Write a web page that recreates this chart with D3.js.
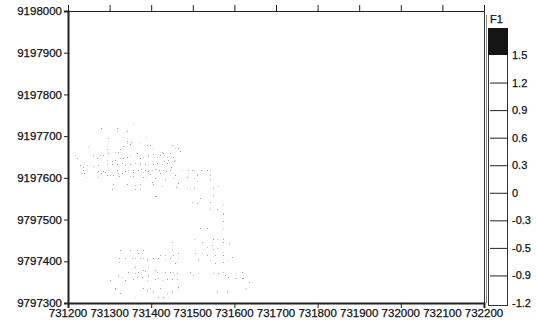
<!DOCTYPE html>
<html>
<head>
<meta charset="utf-8">
<script src="https://cdn.jsdelivr.net/npm/d3@7"></script>
<style>
  body { margin: 0; background: #fff; }
  svg { display: block; font-family: "Liberation Sans", Arial, sans-serif; }
  text { stroke: #111; stroke-width: 0.25px; }
</style>
</head>
<body>
<svg id="chart" width="536" height="325"></svg>
<script>
// axis ticks and labels (labels copied as printed on the figure)
const yTicks = [9198000, 9197900, 9197800, 9197700, 9197600, 9197500, 9197400, 9197300];
const yLabels = ['9198000', '9197900', '9197800', '9197700', '9197600', '9797500', '9797400', '9797300'];
const xTicks = [731200, 731300, 731400, 731500, 731600, 731700, 731800, 731900, 732000, 732100, 732200];
const xMajor = [731200, 731400, 731600, 731800, 732000, 732200];
const legendLevels = ['1.5', '1.2', '0.9', '0.6', '0.3', '0', '-0.3', '-0.5', '-0.9', '-1.2'];

// sample points, upper cluster [easting, northing]
const upperPoints = [
  [731356, 9197729], [731279, 9197720], [731318, 9197720], [731318, 9197712], [731342, 9197712],
  [731296, 9197696], [731388, 9197698], [731342, 9197688], [731351, 9197686], [731342, 9197684],
  [731349, 9197681], [731332, 9197676], [731373, 9197686], [731390, 9197679], [731397, 9197679],
  [731404, 9197672], [731426, 9197662], [731450, 9197679], [731457, 9197672], [731464, 9197672],
  [731469, 9197664], [731248, 9197674], [731294, 9197669], [731296, 9197660], [731313, 9197662],
  [731320, 9197662], [731325, 9197669], [731217, 9197655], [731222, 9197648], [731260, 9197655],
  [731277, 9197655], [731284, 9197655], [731270, 9197648], [731294, 9197643], [731306, 9197641],
  [731313, 9197643], [731325, 9197648], [731332, 9197648], [731342, 9197650], [731349, 9197655],
  [731366, 9197660], [731373, 9197648], [731380, 9197650], [731392, 9197655], [731404, 9197657],
  [731414, 9197650], [731421, 9197655], [731428, 9197660], [731438, 9197650], [731445, 9197660],
  [731452, 9197650], [731457, 9197643], [731229, 9197631], [731236, 9197626], [731246, 9197631],
  [731260, 9197629], [731272, 9197631], [731294, 9197634], [731306, 9197634], [731318, 9197634],
  [731330, 9197636], [731337, 9197631], [731349, 9197634], [731361, 9197636], [731373, 9197634],
  [731385, 9197634], [731392, 9197631], [731404, 9197634], [731414, 9197636], [731426, 9197634],
  [731438, 9197636], [731448, 9197626], [731402, 9197641], [731431, 9197641], [731440, 9197643],
  [731450, 9197641], [731455, 9197641], [731236, 9197619], [731246, 9197619], [731272, 9197617],
  [731284, 9197617], [731296, 9197619], [731318, 9197619], [731337, 9197617], [731344, 9197619],
  [731356, 9197619], [731368, 9197619], [731376, 9197621], [731385, 9197619], [731392, 9197617],
  [731402, 9197619], [731409, 9197621], [731419, 9197619], [731428, 9197619], [731436, 9197617],
  [731445, 9197619], [731474, 9197619], [731488, 9197619], [731498, 9197619], [731503, 9197619],
  [731520, 9197619], [731534, 9197619], [731541, 9197619], [731231, 9197612], [731239, 9197612],
  [731270, 9197614], [731280, 9197612], [731289, 9197614], [731320, 9197612], [731330, 9197612],
  [731356, 9197614], [731380, 9197614], [731397, 9197609], [731421, 9197612], [731510, 9197609],
  [731510, 9197607], [731541, 9197607], [731243, 9197602], [731272, 9197602], [731294, 9197607],
  [731301, 9197607], [731308, 9197607], [731323, 9197605], [731349, 9197605], [731356, 9197605],
  [731380, 9197602], [731388, 9197602], [731409, 9197600], [731433, 9197597], [731452, 9197600],
  [731457, 9197607], [731486, 9197602], [731503, 9197600], [731541, 9197597], [731402, 9197590],
  [731510, 9197593], [731308, 9197585], [731342, 9197585], [731361, 9197583], [731373, 9197585],
  [731404, 9197585], [731426, 9197581], [731464, 9197588], [731460, 9197578], [731486, 9197576],
  [731503, 9197576], [731549, 9197576], [731560, 9197581], [731306, 9197573], [731361, 9197573],
  [731373, 9197573], [731409, 9197557], [731412, 9197557], [731493, 9197573], [731517, 9197552],
  [731549, 9197559]
];

// sample points, lower cluster [easting, northing]
const lowerPoints = [
  [731498, 9197542], [731510, 9197540], [731541, 9197542], [731573, 9197537], [731541, 9197525],
  [731558, 9197525], [731573, 9197516], [731573, 9197513], [731573, 9197497], [731573, 9197480],
  [731517, 9197480], [731534, 9197480], [731503, 9197453], [731522, 9197446], [731549, 9197453],
  [731558, 9197453], [731573, 9197453], [731573, 9197446], [731534, 9197434], [731546, 9197439],
  [731549, 9197429], [731558, 9197432], [731587, 9197444], [731450, 9197446], [731450, 9197429],
  [731325, 9197427], [731349, 9197427], [731366, 9197427], [731380, 9197427], [731505, 9197420],
  [731522, 9197420], [731534, 9197415], [731553, 9197415], [731573, 9197422], [731573, 9197415],
  [731512, 9197403], [731541, 9197403], [731553, 9197396], [731573, 9197398], [731582, 9197403],
  [731594, 9197410], [731323, 9197408], [731323, 9197398], [731337, 9197408], [731354, 9197408],
  [731361, 9197408], [731368, 9197420], [731373, 9197408], [731380, 9197408], [731390, 9197405],
  [731421, 9197415], [731433, 9197415], [731452, 9197415], [731464, 9197420], [731464, 9197408],
  [731404, 9197408], [731416, 9197408], [731433, 9197403], [731445, 9197408], [731457, 9197396],
  [731462, 9197398], [731361, 9197386], [731380, 9197379], [731392, 9197386], [731409, 9197379],
  [731344, 9197374], [731361, 9197372], [731368, 9197374], [731385, 9197377], [731414, 9197374],
  [731433, 9197374], [731445, 9197374], [731452, 9197374], [731462, 9197372], [731320, 9197367],
  [731330, 9197362], [731337, 9197355], [731356, 9197358], [731366, 9197362], [731378, 9197362],
  [731392, 9197367], [731390, 9197355], [731409, 9197358], [731416, 9197360], [731426, 9197355],
  [731438, 9197358], [731450, 9197358], [731462, 9197358], [731493, 9197374], [731500, 9197367],
  [731512, 9197372], [731549, 9197372], [731560, 9197372], [731573, 9197374], [731577, 9197367],
  [731584, 9197362], [731601, 9197360], [731618, 9197374], [731621, 9197360], [731603, 9197360],
  [731618, 9197360], [731635, 9197350], [731628, 9197336], [731380, 9197336], [731390, 9197331],
  [731397, 9197336], [731404, 9197326], [731421, 9197336], [731438, 9197324], [731450, 9197326],
  [731464, 9197338], [731464, 9197334], [731313, 9197334], [731325, 9197324], [731361, 9197314],
  [731416, 9197314], [731428, 9197314], [731440, 9197314], [731558, 9197329], [731582, 9197329],
  [731626, 9197334], [731301, 9197355], [731313, 9197336]
];

const svg = d3.select('#chart');
const padL = 68, padR = 484, padT = 11, padB = 303;

const x = d3.scaleLinear().domain([731200, 732200]).range([padL, padR]);
const y = d3.scaleLinear().domain([9197300, 9198000]).range([padB, padT]);

// points
svg.append('g')
  .selectAll('rect')
  .data(upperPoints.concat(lowerPoints))
  .enter()
  .append('rect')
  .attr('x', d => Math.round(x(d[0])))
  .attr('y', d => Math.round(y(d[1])))
  .attr('width', 1)
  .attr('height', 1)
  .attr('fill', (d, i) => (i % 3 === 0 ? '#c6c6c6' : '#a0a0a0'));

// frame lines
svg.append('line')
  .attr('x1', padL).attr('x2', padR + 1).attr('y1', padT + 0.5).attr('y2', padT + 0.5)
  .attr('stroke', '#222').attr('stroke-width', 1);
svg.append('line')
  .attr('x1', padR + 0.5).attr('x2', padR + 0.5).attr('y1', padT).attr('y2', padB)
  .attr('stroke', '#333').attr('stroke-width', 1);

// left axis
const yAxis = svg.append('g')
  .attr('transform', `translate(${padL},0)`)
  .call(d3.axisLeft(y).tickValues(yTicks).tickSize(4).tickPadding(2)
    .tickFormat((d, i) => yLabels[i]));
yAxis.select('.domain').attr('stroke', '#222').attr('stroke-width', 2);

// bottom axis
const xAxis = svg.append('g')
  .attr('transform', `translate(0,${padB})`)
  .call(d3.axisBottom(x).tickValues(xMajor).tickSize(5).tickFormat(''));
xAxis.select('.domain').attr('stroke', '#222').attr('stroke-width', 2);

svg.append('g')
  .selectAll('text')
  .data(xTicks)
  .enter()
  .append('text')
  .attr('x', d => x(d))
  .attr('y', 317)
  .attr('text-anchor', 'middle')
  .attr('font-size', 11.5)
  .attr('fill', '#111')
  .text(d => d);

// top ticks
svg.append('g')
  .attr('transform', `translate(0,${padT})`)
  .call(d3.axisTop(x).tickValues(xTicks).tickSize(6).tickFormat(''))
  .select('.domain').remove();

svg.selectAll('.tick line').attr('stroke', '#222');
yAxis.selectAll('text').attr('font-size', 11.5).attr('fill', '#111');

// colour bar
const barX = 488, barW = 19, barTop = 28, barBottom = 305;
const lev = d3.scalePoint().domain(legendLevels).range([55, 303]);

svg.append('line')
  .attr('x1', padR + 2.5).attr('x2', padR + 2.5).attr('y1', padT + 4).attr('y2', padB)
  .attr('stroke', '#888').attr('stroke-width', 1);

svg.append('rect')
  .attr('x', barX + 0.5).attr('y', barTop + 0.5).attr('width', barW).attr('height', barBottom - barTop)
  .attr('fill', '#fff').attr('stroke', '#333').attr('stroke-width', 1);
svg.append('rect')
  .attr('x', barX).attr('y', barTop).attr('width', barW + 1).attr('height', lev('1.5') - barTop)
  .attr('fill', '#151515');

svg.append('g')
  .selectAll('line')
  .data(legendLevels.slice(1, -1))
  .enter()
  .append('line')
  .attr('x1', barX + 2).attr('x2', barX + barW)
  .attr('y1', d => lev(d) + 0.5).attr('y2', d => lev(d) + 0.5)
  .attr('stroke', '#222');

svg.append('g')
  .selectAll('text')
  .data(legendLevels)
  .enter()
  .append('text')
  .attr('x', 512)
  .attr('y', d => lev(d) + 4)
  .attr('font-size', 11)
  .attr('fill', '#111')
  .text(d => d);

svg.append('text')
  .attr('x', 490).attr('y', 23)
  .attr('font-size', 11).attr('fill', '#111')
  .text('F1');
</script>
</body>
</html>
